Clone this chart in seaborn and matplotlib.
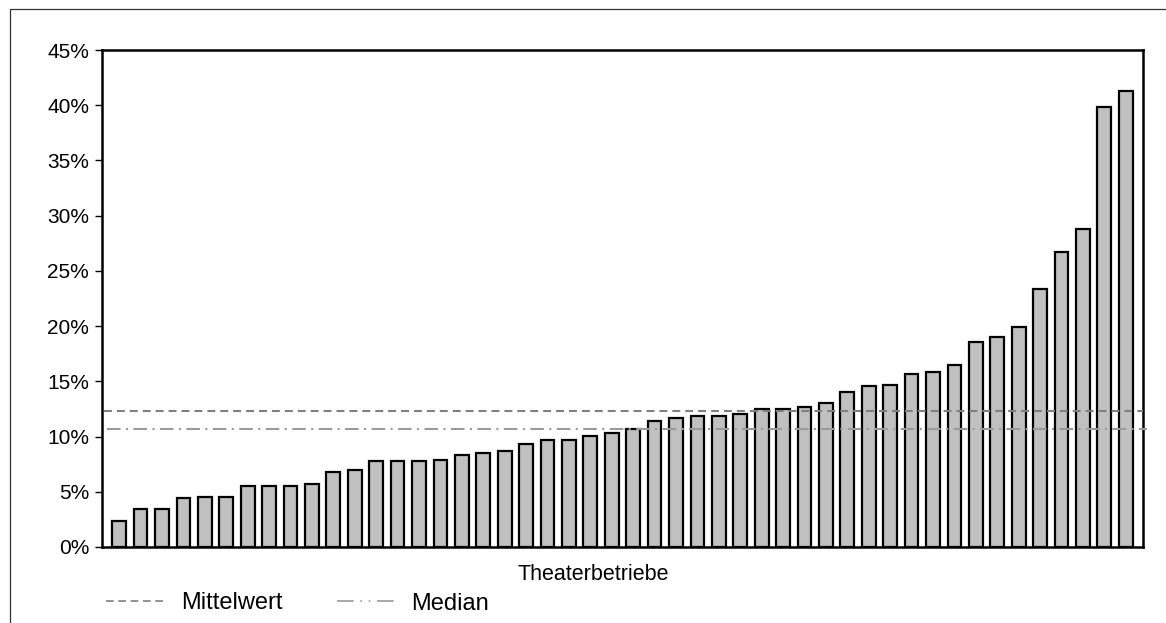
import matplotlib
matplotlib.use("Agg")
import matplotlib.pyplot as plt
from matplotlib.lines import Line2D
from matplotlib.patches import Rectangle
from matplotlib.ticker import FuncFormatter
import seaborn as sns
import pandas as pd

# ---- data (share in %, sorted ascending, one bar per theatre) ----
theatres = [f"T{i+1}" for i in range(48)]
values = [2.38, 3.41, 3.41, 4.41, 4.56, 4.56, 5.55, 5.55, 5.55, 5.73,
          6.77, 6.95, 7.76, 7.76, 7.76, 7.91, 8.33, 8.54, 8.72, 9.30,
          9.69, 9.69, 10.08, 10.30, 10.69, 11.44, 11.68, 11.87, 11.87, 12.05,
          12.47, 12.47, 12.65, 13.04, 14.04, 14.61, 14.65, 15.64, 15.85, 16.46,
          18.60, 18.99, 19.95, 23.34, 26.69, 28.83, 39.88, 41.28]
mean_value = 12.35
median_value = 10.65
y_ticks = [0, 5, 10, 15, 20, 25, 30, 35, 40, 45]
x_label = "Theaterbetriebe"
legend_labels = ["Mittelwert", "Median"]

df = pd.DataFrame({"theatre": theatres, "value": values})

sns.set_theme(style="white")
plt.rcParams["font.family"] = ["Liberation Sans", "DejaVu Sans"]

W, H = 1166, 623
fig = plt.figure(figsize=(W / 100, H / 100), dpi=100)
ax = fig.add_axes([101.5 / W, 1 - 547 / H, (1143.3 - 101.5) / W, (547 - 50) / H])

sns.barplot(data=df, x="theatre", y="value", ax=ax, color="#c0c0c0",
            edgecolor="black", linewidth=1.6, width=0.64, saturation=1)

ax.axhline(mean_value, color="#808080", lw=1.5, dashes=(3.8, 2.4),
           xmin=0.002, xmax=1.0, zorder=3, clip_on=False)
ax.axhline(median_value, color="#9a9a9a", lw=1.5, dashes=(6.5, 2.6, 1.0, 2.6),
           xmin=0.005, xmax=1.004, zorder=3, clip_on=False)

ax.set_xlim(-0.826, 47.82)
ax.set_ylim(0, 45)
ax.set_yticks(y_ticks)
ax.yaxis.set_major_formatter(FuncFormatter(lambda v, p: f"{v:.0f}%"))
ax.set_xticks([])
ax.set_xlabel("")
ax.set_ylabel("")
ax.tick_params(axis="y", which="major", direction="out", length=5, width=1,
               color="black", labelsize=15, labelcolor="black", pad=4, left=True)
for s in ax.spines.values():
    s.set_color("black")
    s.set_linewidth(1.8)
    s.set_visible(True)

# x axis title
fig.text(593 / W, 1 - 574 / H, x_label, ha="center", va="center", fontsize=15.5, color="black")

# legend (drawn below the plot)
ly = 1 - 601 / H
fig.add_artist(Line2D([106 / W, 167 / W], [ly, ly], transform=fig.transFigure,
                      color="#808080", lw=1.2, dashes=(4.6, 2.8)))
fig.text(181 / W, 1 - 609.3 / H, legend_labels[0], ha="left", va="baseline",
         fontsize=17, color="black")
fig.add_artist(Line2D([337 / W, 398 / W], [ly, ly], transform=fig.transFigure,
                      color="#9a9a9a", lw=1.2, dashes=(10, 4, 1.0, 4, 1.0, 4)))
fig.text(411 / W, 1 - 610.5 / H, legend_labels[1], ha="left", va="baseline",
         fontsize=17, color="black")

# outer chart frame
fig.add_artist(Rectangle((9.5 / W, -0.1), 1.2, 1 - 9.5 / H + 0.1, transform=fig.transFigure,
                         fill=False, edgecolor="#333333", lw=0.9))

fig.savefig("out.png", dpi=100)
